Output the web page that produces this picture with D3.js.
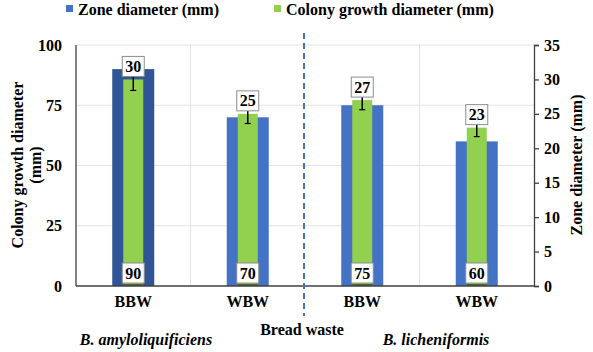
<!DOCTYPE html>
<html>
<head>
<meta charset="utf-8">
<script src="https://cdn.jsdelivr.net/npm/d3@7"></script>
<style>
  text { font-family: 'Liberation Serif', 'Times New Roman', serif !important; font-weight: bold; }
</style>
</head>
<body style="margin:0">
<script>
// data
var categories = ["BBW", "WBW", "BBW", "WBW"];
var zoneValues = [90, 70, 75, 60];        // blue bars, left scale
var colonyValues = [30, 25, 27, 23];      // green bars, right scale
var colonyErrors = [1.6, 1.4, 1.4, 1.3];
var leftTicks = [0, 25, 50, 75, 100];
var rightTicks = [0, 5, 10, 15, 20, 25, 30, 35];
var species = ["B. amyloliquificiens", "B. licheniformis"];

function serif(sel) {
  return sel.style("font-family", function() { return "'Liberation Serif'"; })
            .style("font-weight", "bold")
            .style("font-size", "16px");
}

function chart() {
  var w = 593, h = 352;
  var mLeft = 76, mRight = 534, mTop = 45, mBottom = 286;

  var svg = d3.select("body").append("svg")
              .attr("width", w)
              .attr("height", h);

  var x = d3.scaleBand()
            .domain(d3.range(categories.length))
            .range([mLeft, mRight]);

  var yLeft = d3.scaleLinear().domain([0, 100]).range([mBottom, mTop]);
  var yRight = d3.scaleLinear().domain([0, 35]).range([mBottom, mTop]);

  // grid
  svg.append("g").selectAll("line")
     .data(leftTicks.slice(1))
     .enter().append("line")
     .attr("x1", mLeft).attr("x2", mRight)
     .attr("y1", function(d) { return yLeft(d); })
     .attr("y2", function(d) { return yLeft(d); })
     .attr("stroke", "#e3e3e3").attr("stroke-width", 1);

  svg.append("g").selectAll("line")
     .data([1, 3])
     .enter().append("line")
     .attr("x1", function(d) { return x(d); })
     .attr("x2", function(d) { return x(d); })
     .attr("y1", mTop).attr("y2", mBottom)
     .attr("stroke", "#e3e3e3").attr("stroke-width", 1);

  var c = function(i) { return x(i) + x.bandwidth() / 2; };
  var blueW = 42, greenW = 20;

  // blue bars
  svg.append("g").selectAll("rect")
     .data(zoneValues)
     .enter().append("rect")
     .attr("x", function(d, i) { return c(i) - blueW / 2; })
     .attr("y", function(d) { return yLeft(d); })
     .attr("width", blueW)
     .attr("height", function(d) { return mBottom - yLeft(d); })
     .attr("fill", function(d, i) { return i == 0 ? "#2f5597" : "#4472c4"; });

  // green bars
  svg.append("g").selectAll("rect")
     .data(colonyValues)
     .enter().append("rect")
     .attr("x", function(d, i) { return c(i) - greenW / 2; })
     .attr("y", function(d) { return yRight(d); })
     .attr("width", greenW)
     .attr("height", function(d) { return mBottom - yRight(d); })
     .attr("fill", "#92d050");

  // thin dark strip at green bar base
  svg.append("g").selectAll("rect")
     .data(colonyValues)
     .enter().append("rect")
     .attr("x", function(d, i) { return c(i) - greenW / 2; })
     .attr("y", mBottom - 2)
     .attr("width", greenW)
     .attr("height", 2)
     .attr("fill", "#4f6228");

  // error bars
  var err = svg.append("g");
  colonyValues.forEach(function(d, i) {
    var lo = yRight(d - colonyErrors[i]), hi = yRight(d + colonyErrors[i]);
    err.append("line").attr("x1", c(i)).attr("x2", c(i)).attr("y1", hi).attr("y2", lo)
       .attr("stroke", "#000").attr("stroke-width", 1.5);
    err.append("line").attr("x1", c(i) - 3).attr("x2", c(i) + 3).attr("y1", lo).attr("y2", lo)
       .attr("stroke", "#000").attr("stroke-width", 1.2);
  });

  // boxed labels
  function boxLabel(cx, cy, txt) {
    var g = svg.append("g");
    g.append("rect").attr("x", cx - 11).attr("y", cy - 10).attr("width", 22).attr("height", 20)
     .attr("fill", "#fff").attr("stroke", "#8c8c8c").attr("stroke-width", 1);
    serif(g.append("text")).attr("x", cx).attr("y", cy + 5.5).attr("text-anchor", "middle").text(txt);
  }
  colonyValues.forEach(function(d, i) { boxLabel(c(i), yRight(d) - 13, d); });
  zoneValues.forEach(function(d, i) { boxLabel(c(i), mBottom - 13, d); });

  // axes
  svg.append("line").attr("x1", mLeft).attr("x2", mLeft).attr("y1", mTop).attr("y2", mBottom)
     .attr("stroke", "#404040").attr("stroke-width", 1.3);
  svg.append("line").attr("x1", mLeft).attr("x2", mRight).attr("y1", mBottom).attr("y2", mBottom)
     .attr("stroke", "#404040").attr("stroke-width", 1.3);

  var axL = svg.append("g").attr("transform", "translate(" + mLeft + ",0)")
               .call(d3.axisLeft(yLeft).tickValues(leftTicks).tickSize(0).tickPadding(14));
  axL.select(".domain").remove();
  axL.attr("font-family", null).attr("font-size", null);
  serif(axL.selectAll("text")).attr("fill", "#000");

  var axR = svg.append("g").attr("transform", "translate(" + mRight + ",0)")
               .call(d3.axisRight(yRight).tickValues(rightTicks).tickSize(5).tickPadding(5));
  axR.select(".domain").attr("stroke", "#404040").attr("stroke-width", 1.3);
  axR.selectAll("line").attr("stroke", "#404040").attr("stroke-width", 1.3);
  axR.attr("font-family", null).attr("font-size", null);
  serif(axR.selectAll("text")).attr("fill", "#000");

  // category labels
  serif(svg.append("g").selectAll("text")
     .data(categories)
     .enter().append("text"))
     .attr("x", function(d, i) { return c(i); })
     .attr("y", 307)
     .attr("text-anchor", "middle")
     .text(function(d) { return d; });

  // dashed separator
  svg.append("line").attr("x1", x(2) - 1).attr("x2", x(2) - 1).attr("y1", 33).attr("y2", 316)
     .attr("stroke", "#4472c4").attr("stroke-width", 2).attr("stroke-dasharray", "6,4");

  serif(svg.append("text")).attr("x", 302).attr("y", 335).attr("text-anchor", "middle").text("Bread waste");

  serif(svg.selectAll(".sp")
     .data(species)
     .enter().append("text"))
     .attr("class", "sp")
     .attr("x", function(d, i) { return i == 0 ? 146 : 436; })
     .attr("y", 345)
     .attr("text-anchor", "middle")
     .style("font-style", "italic")
     .text(function(d) { return d; });

  // axis titles
  serif(svg.append("text"))
     .attr("transform", "translate(23,165) rotate(-90)")
     .attr("text-anchor", "middle")
     .text("Colony growth diameter");
  serif(svg.append("text"))
     .attr("transform", "translate(41,165) rotate(-90)")
     .attr("text-anchor", "middle")
     .text("(mm)");
  serif(svg.append("text"))
     .attr("transform", "translate(582,165) rotate(-90)")
     .attr("text-anchor", "middle")
     .text("Zone diameter (mm)");

  // legend
  var legend = [["Zone diameter (mm)", "#4472c4", 66], ["Colony growth diameter (mm)", "#92d050", 274]];
  legend.forEach(function(l) {
    svg.append("rect").attr("x", l[2]).attr("y", 5).attr("width", 7).attr("height", 7).attr("fill", l[1]);
    serif(svg.append("text")).attr("x", l[2] + 12).attr("y", 15).text(l[0]);
  });
}

chart();
</script>
</body>
</html>
